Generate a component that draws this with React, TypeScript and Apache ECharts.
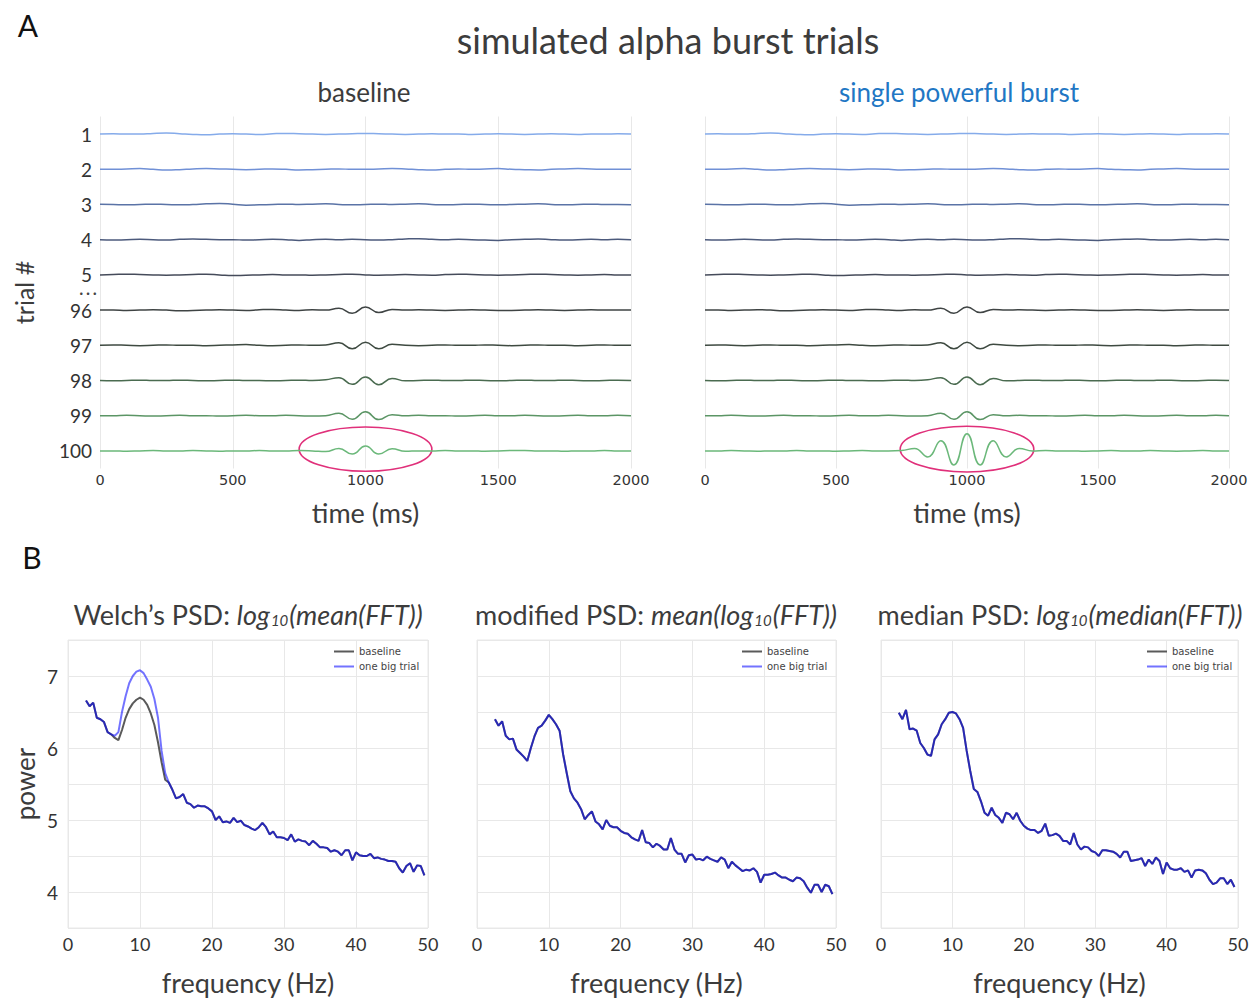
import React, { useEffect, useRef } from "react";
import * as echarts from "echarts";

// ---------- Panel A data ----------
const timeMs = [0, 50, 100, 150, 200, 250, 300, 350, 400, 450, 500, 550, 600, 650, 700, 750, 800, 850, 900, 950, 1000, 1050, 1100, 1150, 1200, 1250, 1300, 1350, 1400, 1450, 1500, 1550, 1600, 1650, 1700, 1750, 1800, 1850, 1900, 1950, 2000];
const trialLabels = ["1", "2", "3", "4", "5", "96", "97", "98", "99", "100"];
const timeTicks = [0, 500, 1000, 1500, 2000];

// signal deviation per trial (in units of row spacing)
const trial1 = [0.00, 0.01, 0.00, 0.00, 0.02, 0.03, 0.01, -0.01, -0.02, 0.00, 0.01, 0.00, -0.01, 0.01, 0.02, 0.01, 0.00, -0.01, 0.00, 0.01, 0.02, 0.01, 0.00, -0.01, 0.00, 0.01, 0.00, 0.00, -0.01, 0.00, 0.01, 0.00, -0.01, 0.00, 0.01, 0.00, -0.01, 0.00, 0.00, 0.01, 0.00];
const trial2 = [0.00, 0.00, 0.01, 0.02, 0.00, -0.02, -0.01, 0.01, 0.02, 0.01, 0.00, -0.01, 0.00, 0.01, 0.00, -0.02, -0.01, 0.00, 0.01, 0.00, 0.00, 0.01, 0.02, 0.01, -0.01, -0.02, 0.00, 0.01, 0.00, 0.01, 0.02, 0.00, -0.01, -0.02, 0.00, 0.01, 0.02, 0.01, 0.00, 0.00, 0.00];
const trial3 = [0.01, 0.00, -0.01, 0.00, 0.01, 0.00, -0.01, 0.00, 0.02, 0.03, 0.01, -0.02, -0.01, 0.00, 0.01, 0.00, 0.01, 0.02, 0.00, -0.01, 0.00, 0.01, 0.00, 0.01, 0.02, 0.00, -0.01, 0.00, 0.01, 0.00, -0.01, 0.00, 0.01, 0.02, 0.00, -0.01, 0.00, 0.01, 0.00, 0.00, -0.01];
const trial4 = [0.00, -0.01, 0.00, 0.01, 0.00, -0.01, 0.01, 0.02, 0.01, 0.00, 0.00, -0.01, 0.00, 0.01, 0.00, -0.02, 0.00, 0.01, 0.00, 0.01, 0.00, -0.01, 0.00, 0.02, 0.03, 0.01, 0.00, 0.01, 0.00, -0.01, -0.02, 0.00, 0.01, 0.02, 0.00, -0.01, 0.00, 0.01, 0.00, 0.01, 0.00];
const trial5 = [0.00, 0.01, 0.02, 0.01, 0.00, -0.01, 0.00, 0.01, 0.02, 0.00, -0.02, -0.01, 0.00, 0.01, 0.00, 0.00, -0.01, 0.00, 0.01, 0.02, 0.00, -0.01, 0.00, 0.01, 0.00, -0.01, 0.01, 0.02, 0.01, 0.00, -0.01, 0.00, 0.01, 0.02, 0.01, 0.00, -0.01, 0.00, 0.01, 0.00, 0.00];
const trial96 = [0.00, 0.00, -0.01, 0.00, 0.01, 0.00, -0.02, -0.01, 0.00, 0.01, 0.00, -0.01, 0.01, 0.02, 0.00, -0.01, 0.01, 0.00, 0.05, -0.09, 0.09, -0.07, 0.02, 0.00, 0.01, 0.00, -0.01, 0.00, 0.01, 0.00, -0.01, -0.01, 0.00, 0.01, 0.00, -0.01, 0.00, 0.01, 0.00, 0.00, 0.00];
const trial97 = [0.00, 0.01, 0.00, -0.01, 0.00, 0.01, 0.00, 0.00, -0.01, 0.00, 0.01, 0.02, 0.00, -0.01, 0.00, 0.01, 0.00, 0.01, 0.07, -0.10, 0.09, -0.10, 0.03, 0.00, -0.01, 0.00, 0.01, 0.00, 0.00, 0.01, 0.00, -0.01, 0.00, 0.01, 0.00, 0.00, -0.01, 0.00, 0.01, 0.00, 0.00];
const trial98 = [0.00, -0.01, 0.00, 0.01, 0.00, 0.00, 0.01, 0.00, -0.01, 0.00, 0.01, 0.00, 0.00, -0.01, 0.00, 0.01, 0.00, 0.02, 0.08, -0.11, 0.10, -0.12, 0.06, -0.01, 0.00, 0.01, 0.00, 0.00, 0.01, 0.00, -0.01, 0.00, 0.01, 0.00, 0.00, 0.01, 0.00, -0.01, 0.00, 0.01, 0.00];
const trial99 = [0.00, 0.00, 0.01, 0.00, -0.01, 0.00, 0.01, 0.00, 0.00, -0.01, 0.00, 0.01, 0.00, 0.00, 0.01, 0.00, -0.01, 0.00, 0.07, -0.10, 0.11, -0.11, 0.03, 0.00, 0.01, 0.00, 0.00, -0.01, 0.00, 0.01, 0.00, 0.00, 0.01, 0.00, -0.01, 0.00, 0.01, 0.00, 0.00, 0.01, 0.00];
const trial100Baseline = [0.00, 0.00, -0.01, 0.00, 0.01, 0.00, 0.00, 0.01, 0.00, -0.01, 0.00, 0.00, 0.01, 0.00, 0.00, 0.01, 0.00, -0.02, 0.07, -0.09, 0.14, -0.09, 0.06, -0.01, 0.00, 0.00, 0.01, 0.00, 0.00, -0.01, 0.00, 0.01, 0.01, 0.00, 0.00, -0.01, 0.00, 0.00, 0.01, 0.00, 0.00];
const trial100Burst = [0.00, 0.00, 0.01, 0.00, -0.01, 0.00, 0.00, 0.01, 0.00, 0.00, -0.01, 0.00, 0.01, 0.00, 0.00, 0.01, 0.07, -0.17, 0.29, -0.40, 0.49, -0.40, 0.29, -0.17, 0.07, 0.00, 0.01, 0.00, 0.00, -0.01, 0.00, 0.01, 0.00, 0.00, 0.01, 0.00, -0.01, 0.00, 0.01, 0.00, 0.00];

const baselineTraces = [trial1, trial2, trial3, trial4, trial5, trial96, trial97, trial98, trial99, trial100Baseline];
const burstTraces = [trial1, trial2, trial3, trial4, trial5, trial96, trial97, trial98, trial99, trial100Burst];
const traceColors = ["#85abea", "#7090d6", "#5a73a6", "#4c5a7c", "#454b5a", "#3f4444", "#3e4a41", "#4a6b50", "#5b9565", "#6bb87a"];

// ---------- Panel B data ----------
const freqHz = [2.5, 3, 3.5, 4, 4.5, 5, 5.5, 6, 6.5, 7, 7.5, 8, 8.5, 9, 9.5, 10, 10.5, 11, 11.5, 12, 12.5, 13, 13.5, 14, 14.5, 15, 15.5, 16, 16.5, 17, 17.5, 18, 18.5, 19, 19.5, 20, 20.5, 21, 21.5, 22, 22.5, 23, 23.5, 24, 24.5, 25, 25.5, 26, 26.5, 27, 27.5, 28, 28.5, 29, 29.5, 30, 30.5, 31, 31.5, 32, 32.5, 33, 33.5, 34, 34.5, 35, 35.5, 36, 36.5, 37, 37.5, 38, 38.5, 39, 39.5, 40, 40.5, 41, 41.5, 42, 42.5, 43, 43.5, 44, 44.5, 45, 45.5, 46, 46.5, 47, 47.5, 48, 48.5, 49, 49.5];

const welchBaseline = [
  6.66, 6.58, 6.63, 6.42, 6.40, 6.36, 6.22, 6.19, 6.14, 6.11,
  6.25, 6.42, 6.54, 6.62, 6.67, 6.70, 6.67, 6.60, 6.48, 6.32,
  6.08, 5.80, 5.56, 5.52, 5.42, 5.30, 5.32, 5.36, 5.24, 5.22,
  5.17, 5.20, 5.19, 5.19, 5.16, 5.12, 5.00, 5.05, 4.97, 4.98,
  4.96, 5.03, 4.97, 4.99, 4.93, 4.91, 4.88, 4.86, 4.90, 4.96,
  4.90, 4.80, 4.84, 4.76, 4.76, 4.75, 4.72, 4.80, 4.70, 4.73,
  4.71, 4.70, 4.65, 4.71, 4.67, 4.62, 4.62, 4.61, 4.56, 4.58,
  4.56, 4.51, 4.58, 4.58, 4.44, 4.55, 4.51, 4.50, 4.50, 4.53,
  4.47, 4.48, 4.46, 4.45, 4.43, 4.43, 4.42, 4.33, 4.27, 4.36,
  4.40, 4.28, 4.37, 4.36, 4.23,
];
const welchBigTrial = [
  6.66, 6.58, 6.63, 6.42, 6.40, 6.36, 6.22, 6.19, 6.17, 6.22,
  6.50, 6.72, 6.90, 7.00, 7.06, 7.08, 7.04, 6.95, 6.85, 6.68,
  6.42, 5.96, 5.65, 5.52, 5.42, 5.30, 5.32, 5.36, 5.24, 5.22,
  5.17, 5.20, 5.19, 5.19, 5.16, 5.12, 5.00, 5.05, 4.97, 4.98,
  4.96, 5.03, 4.97, 4.99, 4.93, 4.91, 4.88, 4.86, 4.90, 4.96,
  4.90, 4.80, 4.84, 4.76, 4.76, 4.75, 4.72, 4.80, 4.70, 4.73,
  4.71, 4.70, 4.65, 4.71, 4.67, 4.62, 4.62, 4.61, 4.56, 4.58,
  4.56, 4.51, 4.58, 4.58, 4.44, 4.55, 4.51, 4.50, 4.50, 4.53,
  4.47, 4.48, 4.46, 4.45, 4.43, 4.43, 4.42, 4.33, 4.27, 4.36,
  4.40, 4.28, 4.37, 4.36, 4.23,
];
const modifiedPsd = [
  6.40, 6.31, 6.37, 6.17, 6.12, 6.13, 5.98, 5.93, 5.88, 5.82,
  6.00, 6.16, 6.28, 6.31, 6.38, 6.46, 6.40, 6.33, 6.24, 5.91,
  5.65, 5.40, 5.30, 5.24, 5.15, 5.01, 5.07, 5.12, 4.98, 4.94,
  4.87, 5.00, 4.92, 4.90, 4.90, 4.85, 4.82, 4.81, 4.76, 4.73,
  4.71, 4.86, 4.69, 4.68, 4.62, 4.67, 4.64, 4.59, 4.59, 4.75,
  4.59, 4.53, 4.53, 4.41, 4.51, 4.52, 4.45, 4.46, 4.44, 4.49,
  4.46, 4.44, 4.42, 4.48, 4.45, 4.33, 4.42, 4.37, 4.33, 4.29,
  4.31, 4.30, 4.33, 4.28, 4.13, 4.24, 4.24, 4.25, 4.27, 4.23,
  4.20, 4.20, 4.17, 4.15, 4.20, 4.19, 4.15, 4.06, 3.99, 4.10,
  4.10, 4.00, 4.10, 4.08, 3.97,
];
const medianPsd = [
  6.49, 6.40, 6.53, 6.26, 6.27, 6.24, 6.07, 6.00, 5.91, 5.89,
  6.12, 6.19, 6.33, 6.40, 6.49, 6.50, 6.48, 6.40, 6.28, 5.96,
  5.68, 5.43, 5.39, 5.26, 5.10, 5.06, 5.17, 5.07, 5.03, 4.96,
  5.10, 5.08, 5.01, 5.10, 4.99, 4.92, 4.88, 4.86, 4.86, 4.82,
  4.85, 4.95, 4.78, 4.79, 4.81, 4.78, 4.71, 4.71, 4.66, 4.82,
  4.66, 4.59, 4.63, 4.62, 4.57, 4.55, 4.50, 4.58, 4.58, 4.57,
  4.56, 4.53, 4.48, 4.56, 4.56, 4.43, 4.44, 4.45, 4.47, 4.36,
  4.45, 4.39, 4.48, 4.43, 4.25, 4.41, 4.33, 4.31, 4.31, 4.33,
  4.28, 4.30, 4.20, 4.30, 4.31, 4.30, 4.26, 4.17, 4.11, 4.13,
  4.19, 4.19, 4.11, 4.17, 4.07,
];
const psdPanels = [
  { baseline: welchBaseline, big: welchBigTrial },
  { baseline: modifiedPsd, big: modifiedPsd },
  { baseline: medianPsd, big: medianPsd },
];
const psdTitles = [
  "Welch\u2019s PSD: {i|log}{s|10}{i|(mean(FFT))}",
  "modified PSD: {i|mean(log}{s|10}{i|(FFT))}",
  "median PSD: {i|log}{s|10}{i|(median(FFT))}",
];
const legendNames = ["baseline", "one big trial"];

const FONT = "Lato, 'Noto Sans', sans-serif";
const TXT = "#3c3c3c";
const GRID_LINE = "#e8e8e8";

function buildOption() {
  const grids = [
    { left: 100, top: 116.5, width: 531, height: 352 },
    { left: 705, top: 116.5, width: 524, height: 352 },
    { left: 68, top: 640, width: 360, height: 288, show: true, borderColor: GRID_LINE, borderWidth: 1 },
    { left: 477, top: 640, width: 359, height: 288, show: true, borderColor: GRID_LINE, borderWidth: 1 },
    { left: 881, top: 640, width: 357, height: 288, show: true, borderColor: GRID_LINE, borderWidth: 1 },
  ];
  const xAxes: any[] = [];
  const yAxes: any[] = [];
  for (let p = 0; p < 2; p++) {
    xAxes.push({
      type: "value", gridIndex: p, min: 0, max: 2000, interval: 500,
      axisLine: { show: false }, axisTick: { show: false },
      axisLabel: { fontSize: 14.5, color: "#333", fontFamily: "'DejaVu Sans', sans-serif", margin: 4,
        customValues: timeTicks, formatter: (v: number) => String(v) },
      splitLine: { show: true, lineStyle: { color: GRID_LINE, width: 1 } },
      name: "time (ms)", nameLocation: "middle", nameGap: 30,
      nameTextStyle: { fontSize: 27, color: TXT, fontFamily: FONT },
    });
    yAxes.push({
      type: "value", gridIndex: p, min: -0.5, max: 9.5,
      axisLine: { show: false }, axisTick: { show: false },
      axisLabel: {
        show: p === 0, customValues: [0, 1, 2, 3, 4, 5, 6, 7, 8, 9],
        formatter: (v: number) => trialLabels[9 - Math.round(v)],
        fontSize: 19, color: "#333", fontFamily: FONT, margin: 8,
      },
      splitLine: { show: false },
      name: p === 0 ? "trial #" : "", nameLocation: "middle", nameGap: 64,
      nameTextStyle: { fontSize: 25, color: TXT, fontFamily: FONT },
    });
  }
  for (let q = 0; q < 3; q++) {
    const gi = 2 + q;
    xAxes.push({
      type: "value", gridIndex: gi, min: 0, max: 50, interval: 10,
      axisLine: { show: false }, axisTick: { show: false },
      axisLabel: { fontSize: 18, color: "#333", fontFamily: FONT, margin: 7 },
      splitLine: { show: true, lineStyle: { color: GRID_LINE, width: 1 } },
      name: "frequency (Hz)", nameLocation: "middle", nameGap: 41,
      nameTextStyle: { fontSize: 27, color: TXT, fontFamily: FONT },
    });
    yAxes.push({
      type: "value", gridIndex: gi, min: 3.5, max: 7.5, interval: 0.5,
      axisLine: { show: false }, axisTick: { show: false },
      axisLabel: {
        show: q === 0,
        formatter: (v: number) => (Math.abs(v - Math.round(v)) < 1e-6 ? String(Math.round(v)) : ""),
        fontSize: 19, color: "#333", fontFamily: FONT, margin: 10,
      },
      splitLine: { show: true, lineStyle: { color: GRID_LINE, width: 1 } },
      name: q === 0 ? "power" : "", nameLocation: "middle", nameGap: 30,
      nameTextStyle: { fontSize: 26, color: TXT, fontFamily: FONT },
    });
  }

  const series: any[] = [];
  [baselineTraces, burstTraces].forEach((traces, p) => {
    traces.forEach((arr, k) => {
      series.push({
        type: "line", xAxisIndex: p, yAxisIndex: p, showSymbol: false, smooth: true,
        silent: true,
        lineStyle: { color: traceColors[k], width: 1.5 },
        data: timeMs.map((t, i) => [t, 9 - k + arr[i]]),
      });
    });
  });
  psdPanels.forEach((panel, q) => {
    const gi = 2 + q;
    series.push({
      name: legendNames[0], type: "line", xAxisIndex: gi, yAxisIndex: gi, showSymbol: false,
      color: "#5a5a5a", lineStyle: { color: "#5a5a5a", width: 2 },
      data: freqHz.map((f, i) => [f, panel.baseline[i]]),
    });
    series.push({
      name: legendNames[1], type: "line", xAxisIndex: gi, yAxisIndex: gi, showSymbol: false,
      color: "rgba(0,0,255,0.55)", lineStyle: { color: "rgba(0,0,255,0.55)", width: 2 },
      data: freqHz.map((f, i) => [f, panel.big[i]]),
    });
  });

  const legendLefts = [329, 737, 1142];
  const legend = legendLefts.map((left) => ({
    left, top: 641, orient: "vertical", data: legendNames, icon: "rect",
    itemWidth: 20, itemHeight: 2, itemGap: 4, selectedMode: false,
    textStyle: { fontSize: 10, color: "#444", fontFamily: "'DejaVu Sans', sans-serif", lineHeight: 11 },
  }));

  return {
    animation: false,
    backgroundColor: "#ffffff",
    grid: grids,
    xAxis: xAxes,
    yAxis: yAxes,
    legend,
    series,
  };
}

export default function App() {
  const ref = useRef<HTMLDivElement>(null);
  useEffect(() => {
    const chart = echarts.init(ref.current!, null, { renderer: "svg" });
    chart.setOption(buildOption() as any);

    const c0 = chart.convertToPixel({ gridIndex: 0 }, [1000, 0.05]) as number[];
    const r0 = chart.convertToPixel({ gridIndex: 0 }, [1250, 0.68]) as number[];
    const c1 = chart.convertToPixel({ gridIndex: 1 }, [1000, 0.05]) as number[];
    const r1 = chart.convertToPixel({ gridIndex: 1 }, [1255, 0.7]) as number[];
    const dots = chart.convertToPixel({ gridIndex: 0 }, [0, 4.5]) as number[];

    const titleStyle = (text: string, x: number, y: number, size: number, fill = TXT) => ({
      type: "text", x, y,
      style: { text, fontSize: size, fontFamily: FONT, fill, align: "center", verticalAlign: "middle", textAlign: "center", textVerticalAlign: "middle" },
    });
    const psdCenters = [248, 656, 1060];
    const graphic: any[] = [
      titleStyle("A", 28, 25, 30, "#111"),
      titleStyle("B", 32, 557, 30, "#111"),
      titleStyle("simulated alpha burst trials", 668, 40, 36),
      titleStyle("baseline", 364, 92, 26),
      titleStyle("single powerful burst", 959, 92, 26, "#1f77c4"),
      ...psdTitles.map((t, q) => ({
        type: "text", x: psdCenters[q], y: 614,
        style: {
          text: t, fontSize: 27, fontFamily: FONT, fill: TXT,
          align: "center", verticalAlign: "middle", textAlign: "center", textVerticalAlign: "middle",
          rich: {
            i: { fontSize: 27, fontStyle: "italic", fontFamily: FONT, fill: TXT, color: TXT, lineHeight: 32 },
            s: { fontSize: 15, fontStyle: "italic", fontFamily: FONT, fill: TXT, color: TXT, lineHeight: 32, padding: [12, 1, 0, 1] },
          },
        },
      })),
      {
        type: "text", x: dots[0] - 12, y: dots[1],
        style: { text: "\u00b7 \u00b7 \u00b7", fontSize: 13, fontWeight: "bold", fontFamily: FONT, fill: "#444", align: "center", verticalAlign: "middle", textAlign: "center", textVerticalAlign: "middle" },
      },
      {
        type: "ellipse", shape: { cx: c0[0], cy: c0[1], rx: r0[0] - c0[0], ry: c0[1] - r0[1] },
        style: { fill: "none", stroke: "#e0307a", lineWidth: 1.6 },
      },
      {
        type: "ellipse", shape: { cx: c1[0], cy: c1[1], rx: r1[0] - c1[0], ry: c1[1] - r1[1] },
        style: { fill: "none", stroke: "#e0307a", lineWidth: 1.6 },
      },
    ];
    chart.setOption({ graphic } as any);
    return () => chart.dispose();
  }, []);
  return <div ref={ref} style={{ position: "absolute", left: 0, top: 0, width: 1255, height: 998 }} />;
}
